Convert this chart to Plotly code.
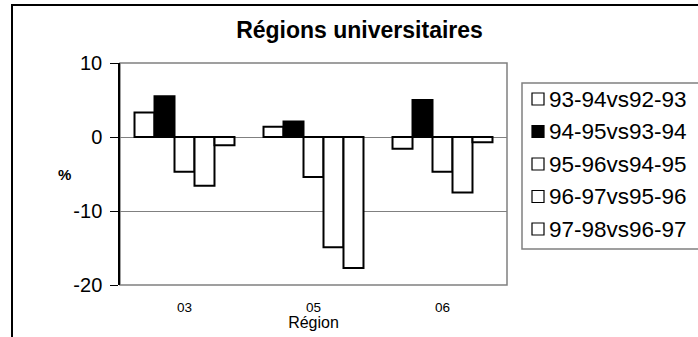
import plotly.graph_objects as go

# Data: year-over-year change (%) by university region
regions = ["03", "05", "06"]
series_names = ["93-94vs92-93", "94-95vs93-94", "95-96vs94-95", "96-97vs95-96", "97-98vs96-97"]
s_93_94 = [3.3, 1.4, -1.6]
s_94_95 = [5.5, 2.1, 5.0]
s_95_96 = [-4.7, -5.4, -4.7]
s_96_97 = [-6.6, -14.9, -7.5]
s_97_98 = [-1.1, -17.7, -0.7]
series_values = [s_93_94, s_94_95, s_95_96, s_96_97, s_97_98]
series_fill = ["white", "black", "white", "white", "white"]
y_ticks = [10, 0, -10, -20]
y_tick_labels = ["10", "0", "-10", "-20"]

Y_MIN, Y_MAX = -20, 10
FONT = "Liberation Sans, Arial, sans-serif"

# Figure geometry (pixels)
W, H = 698, 337
ML, MR, MT, MB = 120, 191, 63, 52
PW, PH = W - ML - MR, H - MT - MB


def px(x):
    """Horizontal pixel -> paper coordinate."""
    return (x - ML) / PW


def py(y):
    """Vertical pixel (from top) -> paper coordinate."""
    return (H - MB - y) / PH


fig = go.Figure()
for name, vals, fill in zip(series_names, series_values, series_fill):
    fig.add_trace(go.Bar(
        x=regions, y=vals, name=name,
        marker=dict(color=fill, line=dict(color="black", width=2)),
        showlegend=False,
    ))

shapes = [
    # outer chart frame
    dict(type="rect", xref="paper", yref="paper",
         x0=px(12), x1=px(730), y0=py(360), y1=py(5),
         line=dict(color="black", width=2), layer="below"),
    # plot-area frame
    dict(type="rect", xref="paper", yref="paper",
         x0=0, x1=1, y0=0, y1=1,
         line=dict(color="#808080", width=1.5), layer="below"),
    # legend frame
    dict(type="rect", xref="paper", yref="paper",
         x0=px(522), x1=px(720), y0=py(249), y1=py(83),
         line=dict(color="#808080", width=1.5)),
]
annotations = [
    dict(text="<b>%</b>", xref="paper", yref="paper", x=px(56), y=py(174),
         showarrow=False, font=dict(family=FONT, size=15, color="black")),
]

# Legend entries: swatch + label
for i, (name, fill) in enumerate(zip(series_names, series_fill)):
    cy = 99 + i * 32.5
    shapes.append(dict(type="rect", xref="paper", yref="paper",
                       x0=px(532), x1=px(544), y0=py(cy + 6), y1=py(cy - 6),
                       fillcolor=fill, line=dict(color="black", width=1.2)))
    annotations.append(dict(text=name, xref="paper", yref="paper",
                            x=px(547), y=py(cy), xanchor="left", yanchor="middle",
                            showarrow=False,
                            font=dict(family=FONT, size=22.5, color="black")))

n_cat = len(regions)
fig.update_layout(
    width=W, height=H,
    margin=dict(l=ML, r=MR, t=MT, b=MB, pad=0),
    paper_bgcolor="white", plot_bgcolor="white",
    font=dict(family=FONT, color="black"),
    barmode="group", bargap=0.225, bargroupgap=0,
    title=dict(text="<b>Régions universitaires</b>", x=359.5 / W, xanchor="center",
               y=1 - 30 / H, yanchor="middle",
               font=dict(family=FONT, size=23, color="black")),
    xaxis=dict(
        type="category", categoryarray=regions,
        showline=False, ticks="", showgrid=False, zeroline=False,
        tickfont=dict(family=FONT, size=13.5, color="black"),
        ticklabelstandoff=12,
        title=dict(text="Région", standoff=0,
                   font=dict(family=FONT, size=16, color="black")),
    ),
    # category axis crossing at zero, ticks between categories
    xaxis2=dict(
        overlaying="x", anchor="free",
        position=(0 - Y_MIN) / (Y_MAX - Y_MIN),
        range=[-0.5, n_cat - 0.5],
        tickmode="array", tickvals=[i + 0.5 for i in range(n_cat)],
        showticklabels=False, ticks="outside", ticklen=4, tickcolor="black",
        tickwidth=1.5, showline=True, linecolor="black", linewidth=1.5,
        showgrid=False, zeroline=False,
    ),
    yaxis=dict(
        range=[Y_MIN, Y_MAX], tickmode="array",
        tickvals=y_ticks, ticktext=y_tick_labels,
        showline=True, linecolor="black", linewidth=1.5,
        ticks="outside", ticklen=8, tickcolor="black", tickwidth=1.2,
        ticklabelstandoff=4,
        showgrid=True, gridcolor="#808080", gridwidth=1.2,
        zeroline=False,
        tickfont=dict(family=FONT, size=20, color="black"),
    ),
    shapes=shapes,
    annotations=annotations,
)

fig.write_html("out.html")
